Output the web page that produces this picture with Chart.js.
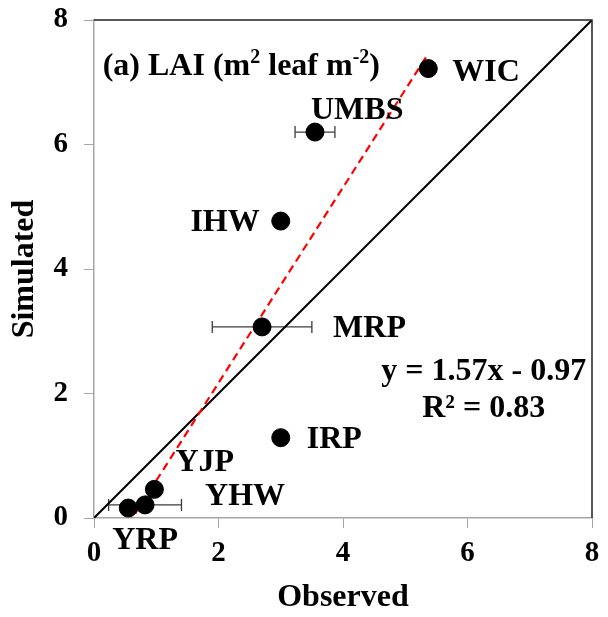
<!DOCTYPE html>
<html>
<head>
<meta charset="utf-8">
<script src="https://cdn.jsdelivr.net/npm/chart.js@4.4.0/dist/chart.umd.min.js"></script>
<style>
  html, body { margin: 0; padding: 0; background: #fff; }
  #wrap { width: 608px; height: 617px; }
</style>
</head>
<body>
<div id="wrap"><canvas id="laiChart"></canvas></div>
<script>
// sites and LAI values (m2 leaf m-2)
const sites = ["WIC", "UMBS", "IHW", "MRP", "IRP", "YJP", "YHW", "YRP"];
const observed = [5.37, 3.55, 3.00, 2.70, 3.00, 0.97, 0.82, 0.55];
const simulated = [7.22, 6.20, 4.77, 3.07, 1.29, 0.46, 0.21, 0.16];
const observedErr = [0, 0.32, 0, 0.80, 0, 0, 0.585, 0];
const axisTicks = [0, 2, 4, 6, 8];

// linear fit shown on the chart
const fitSlope = 1.57;
const fitIntercept = -0.97;

// label placement, pixels from each point: [dx, dy, align]
const labelOffsets = [
  [24, 2, "left"], [-4, -24, "left"], [-21, -1, "right"], [71, 0, "left"],
  [26, 0, "left"], [21, -29, "left"], [60, -10, "left"], [-16, 30, "left"]
];

const serif = "'Liberation Serif', 'Times New Roman', serif";
const fontSize = 32;

const xMin = Math.min(...observed);
const xMax = Math.max(...observed);

// box, error bars and text
const annotate = {
  id: "annotate",
  beforeDatasetsDraw(chart) {
    const { ctx, scales: { x, y } } = chart;
    ctx.save();
    ctx.strokeStyle = "#3c3c3c";
    ctx.lineWidth = 1.3;
    observed.forEach((v, i) => {
      const e = observedErr[i];
      if (!e) return;
      const py = y.getPixelForValue(simulated[i]);
      const x0 = x.getPixelForValue(v - e);
      const x1 = x.getPixelForValue(v + e);
      ctx.beginPath();
      ctx.moveTo(x0, py); ctx.lineTo(x1, py);
      ctx.moveTo(x0, py - 6); ctx.lineTo(x0, py + 6);
      ctx.moveTo(x1, py - 6); ctx.lineTo(x1, py + 6);
      ctx.stroke();
    });
    ctx.restore();
  },
  afterDraw(chart) {
    const { ctx, chartArea: a, scales: { x, y } } = chart;
    ctx.save();
    ctx.strokeStyle = "#222";
    ctx.lineWidth = 1.5;
    ctx.beginPath();
    ctx.moveTo(a.left, a.top); ctx.lineTo(a.right, a.top); ctx.lineTo(a.right, a.bottom);
    ctx.stroke();

    ctx.fillStyle = "#000";
    ctx.textBaseline = "alphabetic";
    const capHalf = fontSize * 0.33;
    const big = "bold " + fontSize + "px " + serif;
    const small = "bold " + Math.round(fontSize * 0.62) + "px " + serif;
    ctx.font = big;

    sites.forEach((s, i) => {
      const [dx, dy, align] = labelOffsets[i];
      ctx.textAlign = align;
      ctx.fillText(s, x.getPixelForValue(observed[i]) + dx,
        y.getPixelForValue(simulated[i]) + dy + capHalf);
    });

    // fit equation
    ctx.textAlign = "center";
    ctx.fillText("y = 1.57x - 0.97", x.getPixelForValue(6.26), y.getPixelForValue(2.38) + capHalf);
    ctx.fillText("R² = 0.83", x.getPixelForValue(6.26), y.getPixelForValue(1.80) + capHalf);

    // panel title with superscripts
    ctx.textAlign = "left";
    let tx = x.getPixelForValue(0.14);
    const ty = y.getPixelForValue(7.28) + capHalf;
    const parts = [["(a) LAI (m", big, 0], ["2", small, -12], [" leaf m", big, 0], ["-2", small, -12], [")", big, 0]];
    parts.forEach(([t, f, rise]) => {
      ctx.font = f;
      ctx.fillText(t, tx, ty + rise);
      tx += ctx.measureText(t).width;
    });
    ctx.restore();
  }
};

const tickFont = { family: serif, size: 29, weight: "bold" };

new Chart(document.getElementById("laiChart"), {
  type: "scatter",
  data: {
    datasets: [
      {
        label: "Sites",
        data: observed.map((v, i) => ({ x: v, y: simulated[i] })),
        backgroundColor: "#000",
        borderColor: "#000",
        pointRadius: 9,
        order: 1
      },
      {
        type: "line",
        label: "1:1",
        data: [{ x: 0, y: 0 }, { x: 8, y: 8 }],
        borderColor: "#000",
        borderWidth: 2,
        pointRadius: 0,
        order: 3
      },
      {
        type: "line",
        label: "Fit",
        data: [
          { x: xMin, y: fitSlope * xMin + fitIntercept },
          { x: xMax, y: fitSlope * xMax + fitIntercept }
        ],
        borderColor: "#ff0000",
        borderWidth: 2.2,
        borderDash: [8, 5],
        pointRadius: 0,
        order: 2
      }
    ]
  },
  options: {
    responsive: true,
    maintainAspectRatio: false,
    animation: false,
    layout: { padding: { top: 20, right: 16, left: 0, bottom: 0 } },
    plugins: { legend: { display: false }, tooltip: { enabled: false } },
    scales: {
      x: {
        type: "linear",
        min: 0,
        max: 8,
        afterBuildTicks: (s) => { s.ticks = axisTicks.map((v) => ({ value: v })); },
        afterFit: (s) => { s.height = 99; s.paddingLeft = 0; s.paddingRight = 0; },
        ticks: { font: tickFont, color: "#000", padding: 8 },
        grid: { drawOnChartArea: false, tickLength: 10, color: "#a6a6a6" },
        border: { color: "#a6a6a6", width: 1.5 },
        title: {
          display: true,
          text: "Observed",
          font: { family: serif, size: 32, weight: "bold" },
          color: "#000",
          padding: { top: 0, bottom: 0 }
        }
      },
      y: {
        type: "linear",
        min: 0,
        max: 8,
        afterBuildTicks: (s) => { s.ticks = axisTicks.map((v) => ({ value: v })); },
        afterFit: (s) => { s.width = 94; s.paddingTop = 0; s.paddingBottom = 0; },
        ticks: { font: tickFont, color: "#000", padding: 16 },
        grid: { drawOnChartArea: false, tickLength: 10, color: "#a6a6a6" },
        border: { color: "#a6a6a6", width: 1.5 },
        title: {
          display: true,
          text: "Simulated",
          font: { family: serif, size: 32, weight: "bold" },
          color: "#000",
          padding: { top: 6, bottom: 0 }
        }
      }
    }
  },
  plugins: [annotate]
});
</script>
</body>
</html>
